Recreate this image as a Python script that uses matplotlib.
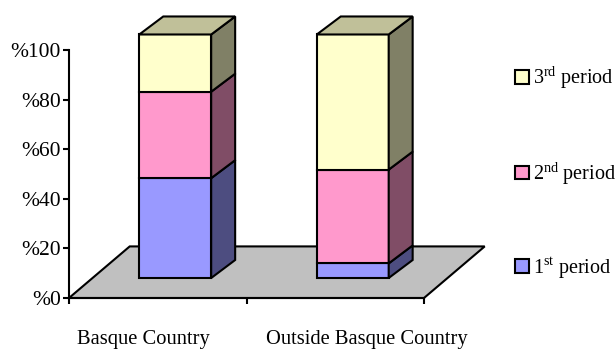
#!/usr/bin/env python3
"""Stacked 3D-style bars of share per period, inside and outside the Basque Country"""

import numpy as np
import matplotlib
matplotlib.use("Agg")
import matplotlib.pyplot as plt
from matplotlib.patches import Patch, Polygon

categories = ["Basque Country", "Outside Basque Country"]
period_labels = [r"$1^{\mathrm{st}}$ period", r"$2^{\mathrm{nd}}$ period", r"$3^{\mathrm{rd}}$ period"]
first_period = [41, 6]
second_period = [35.5, 38.5]
third_period = [23.5, 55.5]
y_ticks = [0, 20, 40, 60, 80, 100]
tick_labels = ["%0", "%20", "%40", "%60", "%80", "%100"]

face_colors = ["#9999ff", "#ff99cc", "#ffffcc"]
side_colors = ["#4d4d80", "#804d66", "#808066"]
top_color = "#c0c099"
floor_color = "#c0c0c0"

W, H = 615, 349
LW = 1.5

# fake perspective, in data units
floor_dx, floor_dy = 0.342, 20.8
bar_shift_x, bar_shift_y = 0.0986, 8.06
bar_dx, bar_dy = 0.135, 7.26
bar_width = 0.405
height_scale = 0.982

plt.rcParams["font.family"] = ["Liberation Serif", "DejaVu Serif"]
plt.rcParams["mathtext.fontset"] = "custom"
plt.rcParams["mathtext.rm"] = "Liberation Serif"

fig = plt.figure(figsize=(W / 100, H / 100), dpi=100)
ax = fig.add_axes([69 / W, (H - 298) / H, 355 / W, 248 / H])
ax.set_xlim(0, 2)
ax.set_ylim(0, 100)
ax.patch.set_visible(False)

# floor
ax.add_patch(Polygon([(0, 0), (2, 0), (2 + floor_dx, floor_dy), (floor_dx, floor_dy)],
                     closed=True, fc=floor_color, ec="black", lw=LW, clip_on=False, zorder=1))

# bars, bottom to top
x_pos = np.arange(len(categories)) + 0.5 + bar_shift_x
bottoms = np.zeros(len(categories))
series = [first_period, second_period, third_period]
for vals, face, side in zip(series, face_colors, side_colors):
    heights = np.array(vals) * height_scale
    ax.bar(x_pos, heights, width=bar_width, bottom=bottoms + bar_shift_y, color=face,
           edgecolor="black", linewidth=LW, clip_on=False, zorder=3)
    for x, b, h in zip(x_pos, bottoms, heights):
        xr = x + bar_width / 2
        y0 = b + bar_shift_y
        ax.add_patch(Polygon([(xr, y0), (xr + bar_dx, y0 + bar_dy),
                              (xr + bar_dx, y0 + h + bar_dy), (xr, y0 + h)],
                             closed=True, fc=side, ec="black", lw=LW, clip_on=False, zorder=3))
    bottoms = bottoms + heights

# lid on top of each stack
for x, top in zip(x_pos, bottoms + bar_shift_y):
    xl, xr = x - bar_width / 2, x + bar_width / 2
    ax.add_patch(Polygon([(xl, top), (xr, top), (xr + bar_dx, top + bar_dy), (xl + bar_dx, top + bar_dy)],
                         closed=True, fc=top_color, ec="black", lw=LW, clip_on=False, zorder=3))

for s in ["top", "right"]:
    ax.spines[s].set_visible(False)
for s in ["left", "bottom"]:
    ax.spines[s].set_linewidth(LW)
    ax.spines[s].set_zorder(2)

ax.set_yticks(y_ticks)
ax.set_yticklabels(tick_labels, fontsize=15.5)
ax.tick_params(axis="y", length=4, width=LW, pad=2)
ax.set_xticks([0, 1, 2])
ax.set_xticklabels([])
ax.tick_params(axis="x", length=4, width=LW)

# category labels sit left of the slot centres
for i, (name, off) in enumerate(zip(categories, [-10, 23])):
    ax.annotate(name, xy=(i + 0.5, 0), xytext=(off, -30), textcoords="offset points",
                ha="center", va="center", fontsize=14.8, annotation_clip=False)

handles = [Patch(fc=c, ec="black", lw=LW) for c in face_colors]
fig.legend(handles[::-1], period_labels[::-1], loc="center left", bbox_to_anchor=(515 / W, (H - 172.5) / H),
           frameon=False, fontsize=14.5, labelspacing=3.4, handlelength=0.68, handleheight=0.68,
           handletextpad=0.2, borderpad=0, borderaxespad=0)

fig.savefig("out.png", dpi=100)
